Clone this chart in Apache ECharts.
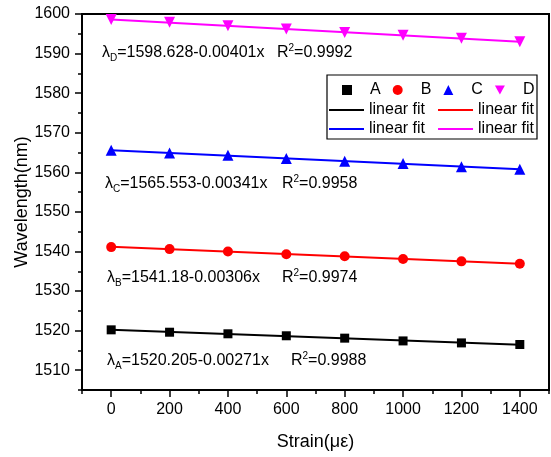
<!DOCTYPE html>
<html>
<head>
<meta charset="utf-8">
<script src="https://cdn.jsdelivr.net/npm/echarts@6/dist/echarts.min.js"></script>
<style>
html,body{margin:0;padding:0;background:#fff;}
#chart{width:551px;height:457px;}
</style>
</head>
<body>
<div id="chart"></div>
<script>
// ---- data ----
const strain = [0, 200, 400, 600, 800, 1000, 1200, 1400];
const seriesA = [1520.2, 1519.6, 1519.2, 1518.7, 1518.1, 1517.4, 1516.9, 1516.5];
const seriesB = [1541.1, 1540.6, 1540.0, 1539.3, 1538.8, 1538.1, 1537.5, 1536.9];
const seriesC = [1565.6, 1564.9, 1564.3, 1563.5, 1562.8, 1562.2, 1561.4, 1560.8];
const seriesD = [1598.6, 1597.9, 1597.0, 1596.2, 1595.3, 1594.6, 1593.9, 1593.0];
const seriesNames = ['A', 'B', 'C', 'D'];
const fitIntercept = [1520.205, 1541.18, 1565.553, 1598.628];
const fitSlope = [-0.00271, -0.00306, -0.00341, -0.00401];
const fitRange = [0, 1400];
const xTickLabels = [0, 200, 400, 600, 800, 1000, 1200, 1400];
const xMinorTicks = [-100, 100, 300, 500, 700, 900, 1100, 1300, 1500];
const yTickLabels = [1510, 1520, 1530, 1540, 1550, 1560, 1570, 1580, 1590, 1600];
const yMinorTicks = [1505, 1515, 1525, 1535, 1545, 1555, 1565, 1575, 1585, 1595];
const eqTexts = ['1520.205-0.00271x', '1541.18-0.00306x', '1565.553-0.00341x', '1598.628-0.00401x'];
const r2Texts = ['0.9988', '0.9974', '0.9958', '0.9992'];

const FONT = '"Liberation Sans", Arial, Helvetica, sans-serif';
const colors = ['#000000', '#ff0000', '#0000ff', '#ff00ff'];
const symbols = ['rect', 'circle', 'triangle', 'triangle'];
const symbolRot = [0, 0, 0, 180];
const symbolSizes = [9, 10, 11, 11];
const allData = [seriesA, seriesB, seriesC, seriesD];

const chart = echarts.init(document.getElementById('chart'), null, {renderer: 'canvas'});

const series = [];
for (let i = 0; i < 4; i++) {
  series.push({
    name: 'fit' + seriesNames[i],
    type: 'line',
    xAxisIndex: 0, yAxisIndex: 0,
    data: fitRange.map(x => [x, fitIntercept[i] + fitSlope[i] * x]),
    symbol: 'none',
    lineStyle: {color: colors[i], width: 2},
    itemStyle: {color: colors[i]},
    z: 2,
    silent: true
  });
}
for (let i = 0; i < 4; i++) {
  series.push({
    name: seriesNames[i],
    type: 'scatter',
    xAxisIndex: 0, yAxisIndex: 0,
    data: strain.map((x, k) => [x, allData[i][k]]),
    symbol: symbols[i],
    symbolRotate: symbolRot[i],
    symbolSize: symbolSizes[i],
    itemStyle: {color: colors[i], opacity: 1},
    z: 3,
    silent: true
  });
}

const legendText = {fontSize: 16, color: '#000', fontFamily: FONT};

const eqGraphics = [];
const eqPos = [[107, 361], [107, 278], [105, 184], [102, 53]];
const r2Pos = [[291, 361], [282, 278], [282, 184], [277, 53]];
const subLetters = ['A', 'B', 'C', 'D'];
const rich = {
  n: {fontSize: 16, fontFamily: FONT, fill: '#000', color: '#000', lineHeight: 20, verticalAlign: 'middle'},
  s: {fontSize: 10, fontFamily: FONT, fill: '#000', color: '#000', lineHeight: 10, verticalAlign: 'bottom'},
  p: {fontSize: 10, fontFamily: FONT, fill: '#000', color: '#000', lineHeight: 10, verticalAlign: 'top'}
};
for (let i = 0; i < 4; i++) {
  eqGraphics.push({
    type: 'text', silent: true, z: 10,
    style: {
      x: eqPos[i][0], y: eqPos[i][1],
      text: '{n|λ}{s|' + subLetters[i] + '}{n|=' + eqTexts[i] + '}',
      rich: rich, verticalAlign: 'middle', align: 'left',
      font: '16px ' + FONT, fill: '#000'
    }
  });
  eqGraphics.push({
    type: 'text', silent: true, z: 10,
    style: {
      x: r2Pos[i][0], y: r2Pos[i][1],
      text: '{n|R}{p|2}{n|=' + r2Texts[i] + '}',
      rich: rich, verticalAlign: 'middle', align: 'left',
      font: '16px ' + FONT, fill: '#000'
    }
  });
}

const gridBox = {left: 82, right: 2, top: 14, bottom: 67, containLabel: false, outerBoundsMode: 'none'};
const plain = v => String(v);
const lineIcon = 'rect';

const option = {
  animation: false,
  backgroundColor: '#ffffff',
  textStyle: {fontFamily: FONT},
  grid: [
    Object.assign({show: true, borderColor: '#000', borderWidth: 2, backgroundColor: 'transparent'}, gridBox),
    Object.assign({show: false}, gridBox)
  ],
  legend: [
    {
      data: [
        {name: 'A', icon: 'rect'},
        {name: 'B', icon: 'circle'},
        {name: 'C', icon: 'triangle'},
        {name: 'D', icon: 'path://M0,0L10,0L5,9Z'}
      ],
      left: 342, top: 82, padding: 0, z: 12,
      itemWidth: 10, itemHeight: 10, itemGap: 12,
      textStyle: Object.assign({padding: [0, 0, 0, 13]}, legendText),
      selectedMode: false
    },
    {
      data: [{name: 'fitA', icon: lineIcon}, {name: 'fitB', icon: lineIcon}],
      formatter: () => 'linear fit',
      left: 329, top: 102, padding: 0, z: 12,
      itemWidth: 35, itemHeight: 2, itemGap: 13,
      textStyle: legendText,
      selectedMode: false
    },
    {
      data: [{name: 'fitC', icon: lineIcon}, {name: 'fitD', icon: lineIcon}],
      formatter: () => 'linear fit',
      left: 329, top: 121, padding: 0, z: 12,
      itemWidth: 35, itemHeight: 2, itemGap: 13,
      textStyle: legendText,
      selectedMode: false
    }
  ],
  xAxis: [
    {
      gridIndex: 0, type: 'value', position: 'bottom',
      min: -100, max: 1500, interval: 100,
      name: 'Strain(με)', nameLocation: 'middle', nameGap: 43, nameMoveOverlap: false,
      nameTextStyle: {fontSize: 18, color: '#000', fontFamily: FONT},
      axisLine: {show: true, onZero: false, lineStyle: {color: '#000', width: 1.5}},
      axisTick: {show: true, inside: false, length: 7, lineStyle: {color: '#000', width: 1.5}, customValues: xTickLabels},
      axisLabel: {show: true, margin: 12, fontSize: 16, color: '#000', fontFamily: FONT, customValues: xTickLabels, formatter: plain},
      splitLine: {show: false}
    },
    {
      gridIndex: 1, type: 'value', position: 'bottom',
      min: -100, max: 1500, interval: 100,
      axisLine: {show: false, onZero: false},
      axisTick: {show: true, inside: false, length: 4, lineStyle: {color: '#000', width: 1.5}, customValues: xMinorTicks},
      axisLabel: {show: false},
      splitLine: {show: false}
    }
  ],
  yAxis: [
    {
      gridIndex: 0, type: 'value', position: 'left',
      min: 1505, max: 1600, interval: 5,
      name: 'Wavelength(nm)', nameLocation: 'middle', nameGap: 51, nameMoveOverlap: false,
      nameTextStyle: {fontSize: 18, color: '#000', fontFamily: FONT},
      axisLine: {show: true, onZero: false, lineStyle: {color: '#000', width: 1.5}},
      axisTick: {show: true, inside: false, length: 7, lineStyle: {color: '#000', width: 1.5}, customValues: yTickLabels},
      axisLabel: {show: true, margin: 12, fontSize: 16, color: '#000', fontFamily: FONT, customValues: yTickLabels, formatter: plain},
      splitLine: {show: false}
    },
    {
      gridIndex: 1, type: 'value', position: 'left',
      min: 1505, max: 1600, interval: 5,
      axisLine: {show: false, onZero: false},
      axisTick: {show: true, inside: false, length: 4, lineStyle: {color: '#000', width: 1.5}, customValues: yMinorTicks},
      axisLabel: {show: false},
      splitLine: {show: false}
    }
  ],
  series: series,
  graphic: [
    {
      type: 'rect', silent: true, z: 1,
      shape: {x: 327, y: 75, width: 210, height: 64},
      style: {fill: '#fff', stroke: '#000', lineWidth: 1.2}
    }
  ].concat(eqGraphics)
};
chart.setOption(option);
</script>
</body>
</html>
